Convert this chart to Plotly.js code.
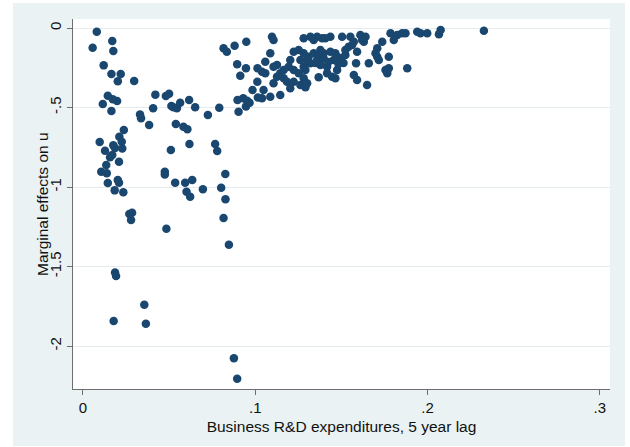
<!DOCTYPE html>
<html>
<head>
<meta charset="utf-8">
<script src="https://cdn.plot.ly/plotly-3.0.1.min.js"></script>
<style>
  html, body { margin: 0; padding: 0; background: #ffffff; }
  #chart { width: 630px; height: 447px; }
</style>
</head>
<body>
<div id="chart"></div>
<script>
// Business R&D expenditures, 5 year lag
const rdLag = [
  0.0080,0.0056,0.0170,0.0176,0.0120,0.0165,0.0219,0.0202,0.0297,0.0144,
  0.0173,0.0198,0.0115,0.0165,0.0237,0.0211,0.0225,0.0097,0.0128,0.0176,
  0.0186,0.0228,0.0170,0.0157,0.0209,0.0135,0.0106,0.0138,0.0202,0.0209,
  0.0144,0.0184,0.0234,0.0269,0.0285,0.0279,0.0186,0.0192,0.0178,0.0356,
  0.0365,
  0.0420,0.0481,0.0500,0.0407,0.0513,0.0525,0.0564,0.0545,0.0616,0.0651,
  0.0337,0.0331,0.0384,0.0539,0.0583,0.0606,0.0618,0.0510,0.0475,0.0475,
  0.0535,0.0593,0.0634,0.0601,0.0622,0.0696,0.0725,0.0791,0.0767,0.0779,
  0.0826,0.0802,0.0827,0.0816,0.0484,0.0847,0.0876,0.0895,
  0.0816,0.0835,0.0880,0.0948,0.0895,0.0946,0.0913,0.0984,0.0897,0.0930,
  0.0953,0.0967,0.0946,0.0903,0.1013,0.1012,0.1015,
  0.1097,0.1106,0.1087,0.1058,0.1039,0.1058,0.1048,0.1039,0.1087,0.1145,
  0.1106,0.1126,0.1145,0.1165,0.1194,0.1106,0.1126,0.1203,0.1223,0.1252,
  0.1281,0.1310,0.1339,0.1368,0.1397,0.1436,0.1465,0.1223,0.1252,0.1281,
  0.1320,0.1359,0.1378,0.1417,0.1184,0.1223,0.1262,0.1301,0.1203,0.1165,
  0.1320,0.1359,0.1388,0.1436,0.1339,0.1281,0.1417,0.1446,0.1475,
  0.1281,0.1291,0.1368,0.1301,0.1397,0.1455,0.1291,0.1475,0.1262,0.1349,
  0.1378,0.1424,0.1483,0.1494,0.1523,0.1512,0.1465,
  0.1504,0.1552,0.1572,0.1610,0.1620,0.1640,0.1542,0.1562,0.1591,0.1708,
  0.1698,0.1708,0.1717,0.1737,0.1775,0.1785,0.1804,0.1824,0.1853,0.1872,
  0.1940,0.1959,0.1998,0.2066,0.2076,0.2327,0.1585,0.1659,0.1756,0.1766,
  0.1775,0.1882,0.1572,0.1591,0.1649,0.1523,0.1407,0.1630
];
// Marginal effects on u
const marginalU = [
  -0.023,-0.124,-0.082,-0.145,-0.235,-0.289,-0.289,-0.335,-0.333,-0.426,
  -0.448,-0.459,-0.478,-0.522,-0.642,-0.684,-0.715,-0.717,-0.772,-0.738,
  -0.755,-0.757,-0.799,-0.813,-0.841,-0.862,-0.904,-0.914,-0.956,-0.973,
  -0.975,-1.021,-1.033,-1.170,-1.162,-1.208,-1.538,-1.560,-1.843,-1.740,
  -1.860,
  -0.419,-0.428,-0.413,-0.505,-0.491,-0.499,-0.470,-0.505,-0.453,-0.499,
  -0.568,-0.544,-0.610,-0.604,-0.621,-0.637,-0.730,-0.767,-0.904,-0.921,
  -0.973,-0.973,-0.956,-1.030,-1.061,-1.014,-0.547,-0.501,-0.730,-0.774,
  -0.918,-1.004,-1.077,-1.195,-1.262,-1.363,-2.077,-2.206,
  -0.128,-0.149,-0.111,-0.086,-0.228,-0.253,-0.300,-0.390,-0.453,-0.442,
  -0.457,-0.470,-0.494,-0.526,-0.253,-0.338,-0.437,
  -0.055,-0.075,-0.159,-0.212,-0.275,-0.285,-0.390,-0.442,-0.432,-0.421,
  -0.348,-0.306,-0.285,-0.264,-0.243,-0.243,-0.233,-0.201,-0.149,-0.138,
  -0.159,-0.181,-0.159,-0.170,-0.159,-0.149,-0.159,-0.264,-0.285,-0.243,
  -0.222,-0.201,-0.233,-0.243,-0.338,-0.338,-0.358,-0.348,-0.379,-0.316,
  -0.055,-0.055,-0.065,-0.055,-0.075,-0.065,-0.285,-0.306,-0.264,
  -0.316,-0.373,-0.310,-0.201,-0.191,-0.201,-0.264,-0.182,-0.201,-0.220,
  -0.138,-0.214,-0.226,-0.189,-0.170,-0.220,-0.316,
  -0.055,-0.055,-0.086,-0.044,-0.075,-0.055,-0.118,-0.107,-0.149,-0.128,
  -0.159,-0.181,-0.201,-0.086,-0.181,-0.033,-0.075,-0.044,-0.033,-0.033,
  -0.023,-0.033,-0.033,-0.040,-0.013,-0.017,-0.222,-0.222,-0.264,-0.285,
  -0.253,-0.253,-0.296,-0.327,-0.358,-0.138,-0.065,-0.086
];
const xTickVals = [0, 0.1, 0.2, 0.3];
const xTickText = ['0', '.1', '.2', '.3'];
const yTickVals = [0, -0.5, -1, -1.5, -2];
const yTickText = ['0', '-.5', '-1', '-1.5', '-2'];

const FONT = 'Liberation Sans, Arial, Helvetica, sans-serif';
const AXC = '#6e6e6e';

const trace = {
  type: 'scatter',
  mode: 'markers',
  x: rdLag,
  y: marginalU,
  marker: { color: '#1a476f', size: 8.5, line: { width: 0 } },
  hoverinfo: 'x+y'
};

const layout = {
  width: 630, height: 447,
  margin: { l: 73, r: 20, t: 19, b: 58, pad: 0 },
  paper_bgcolor: '#ffffff',
  plot_bgcolor: '#ffffff',
  showlegend: false,
  font: { family: FONT, size: 15, color: '#111111' },
  xaxis: {
    range: [-0.0058, 0.3059],
    tickvals: xTickVals, ticktext: xTickText,
    ticks: 'outside', ticklen: 5, tickcolor: AXC, tickwidth: 1,
    showline: true, linecolor: AXC, linewidth: 1, mirror: false,
    showgrid: false, zeroline: false,
    tickfont: { family: FONT, size: 15, color: '#111111' },
    title: { text: 'Business R&D expenditures, 5 year lag', font: { family: FONT, size: 15.5, color: '#111111' }, standoff: 6 }
  },
  yaxis: {
    range: [-2.27, 0.0566],
    tickvals: yTickVals, ticktext: yTickText,
    tickangle: -90,
    ticks: 'outside', ticklen: 5, tickcolor: AXC, tickwidth: 1,
    showline: true, linecolor: AXC, linewidth: 1, mirror: false,
    showgrid: true, gridcolor: '#e4ecef', gridwidth: 1,
    zeroline: false,
    tickfont: { family: FONT, size: 15, color: '#111111' }
  },
  annotations: [
    { text: 'Marginal effects on u', xref: 'paper', yref: 'paper',
      x: -0.0577, y: 0.5, xanchor: 'center', yanchor: 'middle',
      textangle: -90, showarrow: false,
      font: { family: FONT, size: 15.5, color: '#111111' } }
  ],
  shapes: [
    { type: 'rect', xref: 'paper', yref: 'paper', layer: 'below',
      x0: -0.1117, x1: 1.0279, y0: -0.154, y1: 1.0432,
      fillcolor: '#eaf2f3', line: { width: 0 } },
    { type: 'rect', xref: 'paper', yref: 'paper', layer: 'below',
      x0: 0, x1: 1, y0: 0, y1: 1,
      fillcolor: '#ffffff', line: { width: 0 } }
  ]
};

Plotly.newPlot('chart', [trace], layout, { staticPlot: true, displayModeBar: false });
</script>
</body>
</html>
